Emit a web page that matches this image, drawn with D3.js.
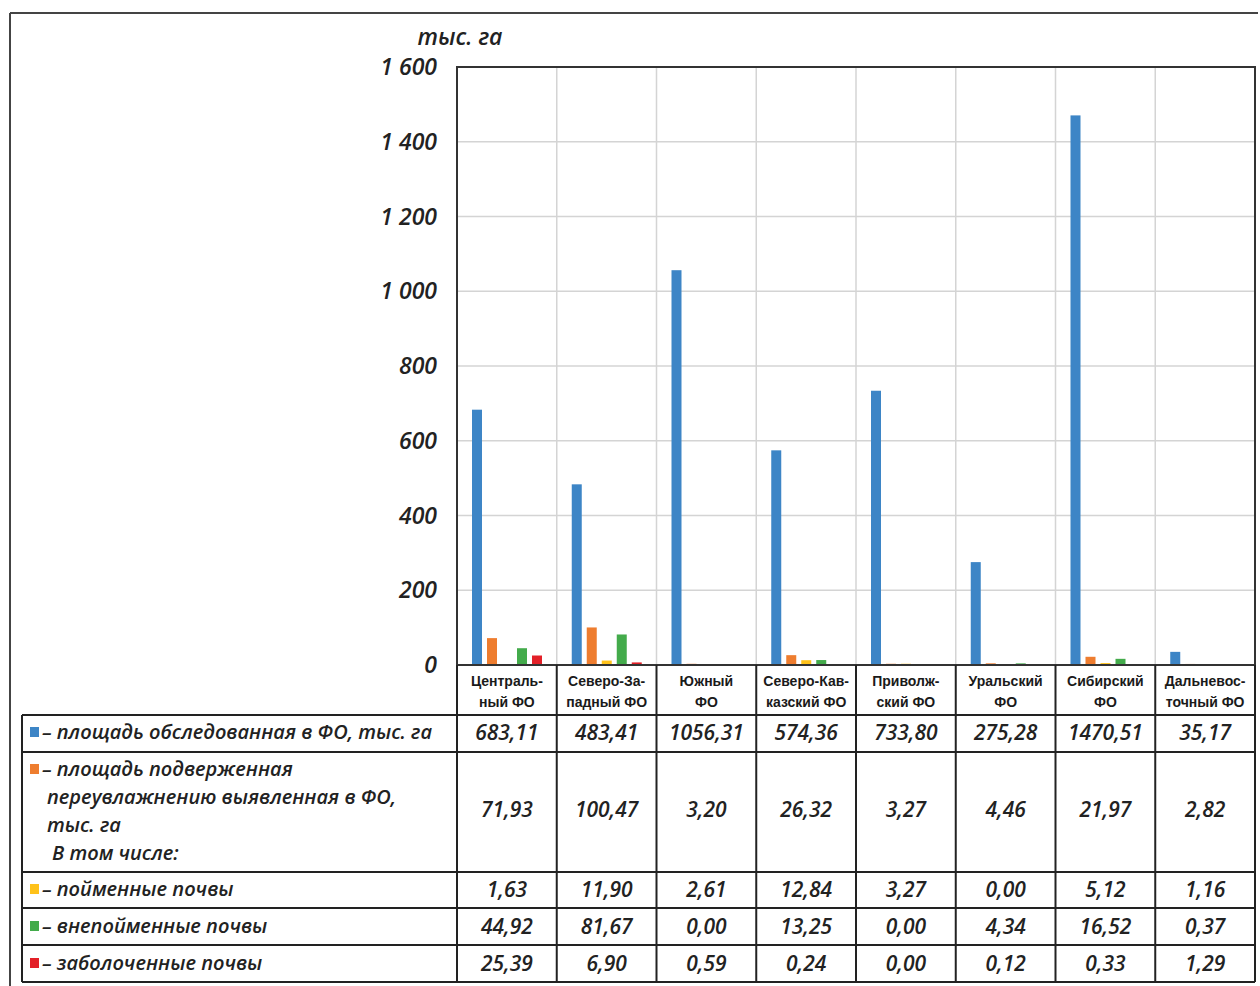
<!DOCTYPE html>
<html>
<head>
<meta charset="utf-8">
<script src="https://cdn.jsdelivr.net/npm/d3@7"></script>
<style>
  body { margin: 0; background: #fff; }
  svg { display: block; }
  .tick-label { font-family: "Open Sans", sans-serif; font-style: italic; font-weight: 600; font-size: 23px; fill: #222; }
  .cat { font-family: "Liberation Sans Narrow", "Liberation Sans", sans-serif; font-weight: 700; font-size: 14px; fill: #1a1a1a; }
  .val { font-family: "Open Sans", sans-serif; font-style: italic; font-weight: 600; font-size: 21px; fill: #222; }
  .leg { font-family: "Open Sans", sans-serif; font-style: italic; font-weight: 600; font-size: 20px; fill: #222; }
</style>
</head>
<body>
<svg id="chart" width="1260" height="986"></svg>
<script>
// categories (two lines each, as in the header cells)
const categories = [
  ['Централь-', 'ный ФО'],
  ['Северо-За-', 'падный ФО'],
  ['Южный', 'ФО'],
  ['Северо-Кав-', 'казский ФО'],
  ['Приволж-', 'ский ФО'],
  ['Уральский', 'ФО'],
  ['Сибирский', 'ФО'],
  ['Дальневос-', 'точный ФО']
];

const surveyed    = [683.11, 483.41, 1056.31, 574.36, 733.80, 275.28, 1470.51, 35.17];
const waterlogged = [71.93, 100.47, 3.20, 26.32, 3.27, 4.46, 21.97, 2.82];
const floodplain  = [1.63, 11.90, 2.61, 12.84, 3.27, 0.00, 5.12, 1.16];
const upland      = [44.92, 81.67, 0.00, 13.25, 0.00, 4.34, 16.52, 0.37];
const swampy      = [25.39, 6.90, 0.59, 0.24, 0.00, 0.12, 0.33, 1.29];

const yTicks = [0, 200, 400, 600, 800, 1000, 1200, 1400, 1600];

const seriesNames = [
  ['– площадь обследованная в ФО, тыс. га'],
  ['– площадь подверженная', 'переувлажнению выявленная в ФО,', 'тыс. га', ' В том числе:'],
  ['– пойменные почвы'],
  ['– внепойменные почвы'],
  ['– заболоченные почвы']
];
const seriesColors = ['#3d85c6', '#ee7d2f', '#ffc21a', '#43ab4b', '#e32028'];
const series = [surveyed, waterlogged, floodplain, upland, swampy];

const svg = d3.select('#chart');

const plotLeft = 457, plotRight = 1255, plotTop = 67, plotBottom = 665;
const tableLeft = 22;

const x = d3.scaleBand()
  .domain(d3.range(categories.length))
  .range([plotLeft, plotRight]);

const xInner = d3.scaleBand()
  .domain(d3.range(series.length))
  .range([15, 85])
  .paddingInner(1 / 3);

const y = d3.scaleLinear()
  .domain([0, 1600])
  .range([plotBottom, plotTop]);

const fmt = v => d3.format(',')(v).replace(/,/g, ' ');
const fmtVal = v => v.toFixed(2).replace('.', ',');

// outer frame (scan border)
svg.append('line').attr('x1', 10).attr('x2', 10).attr('y1', 13).attr('y2', 986)
  .attr('stroke', '#444').attr('stroke-width', 2);
svg.append('line').attr('x1', 10).attr('x2', 1258).attr('y1', 13).attr('y2', 13)
  .attr('stroke', '#444').attr('stroke-width', 2);

// grid
svg.append('g')
  .selectAll('line')
  .data(yTicks.slice(1, -1))
  .join('line')
    .attr('x1', plotLeft).attr('x2', plotRight)
    .attr('y1', d => y(d)).attr('y2', d => y(d))
    .attr('stroke', '#d4d4d4').attr('stroke-width', 1.5);

svg.append('g')
  .selectAll('line')
  .data(d3.range(1, categories.length))
  .join('line')
    .attr('x1', d => x(d)).attr('x2', d => x(d))
    .attr('y1', plotTop).attr('y2', plotBottom)
    .attr('stroke', '#d4d4d4').attr('stroke-width', 1.5);

// bars
series.forEach((vals, si) => {
  svg.append('g')
    .selectAll('rect')
    .data(vals)
    .join('rect')
      .attr('x', (d, i) => x(i) + xInner(si))
      .attr('y', d => y(d))
      .attr('width', xInner.bandwidth())
      .attr('height', d => plotBottom - y(d))
      .attr('fill', seriesColors[si]);
});

// plot frame
svg.append('rect')
  .attr('x', plotLeft).attr('y', plotTop)
  .attr('width', plotRight - plotLeft).attr('height', plotBottom - plotTop)
  .attr('fill', 'none').attr('stroke', '#333').attr('stroke-width', 2);

// y tick labels
svg.append('g')
  .selectAll('text')
  .data(yTicks)
  .join('text')
    .attr('class', 'tick-label')
    .attr('x', 437)
    .attr('y', d => y(d) + 8)
    .attr('text-anchor', 'end')
    .text(fmt);

svg.append('text')
  .attr('class', 'tick-label')
  .attr('x', 460).attr('y', 45)
  .attr('text-anchor', 'middle')
  .text('тыс. га');

// table
const rowEdges = [715, 752, 872, 908, 945, 982];
const rowMid = [733, 810, 890, 927, 964];

const grid = svg.append('g').attr('stroke', '#222').attr('stroke-width', 2);
// header row lines (category cells only)
x.domain().concat([categories.length]).forEach(i => {
  const xx = i < categories.length ? x(i) : plotRight;
  grid.append('line').attr('x1', xx).attr('x2', xx).attr('y1', plotBottom).attr('y2', rowEdges[rowEdges.length - 1]);
});
grid.append('line').attr('x1', tableLeft).attr('x2', tableLeft).attr('y1', rowEdges[0]).attr('y2', rowEdges[rowEdges.length - 1]);
rowEdges.forEach(ry => {
  grid.append('line').attr('x1', tableLeft).attr('x2', plotRight).attr('y1', ry).attr('y2', ry);
});

// header labels
const head = svg.append('g');
categories.forEach((lines, i) => {
  const t = head.append('text')
    .attr('class', 'cat')
    .attr('x', x(i) + x.bandwidth() / 2)
    .attr('y', 686)
    .attr('text-anchor', 'middle');
  lines.forEach((l, li) => {
    t.append('tspan').attr('x', x(i) + x.bandwidth() / 2).attr('dy', li === 0 ? 0 : 21).text(l);
  });
});

// values
series.forEach((vals, si) => {
  svg.append('g')
    .selectAll('text')
    .data(vals)
    .join('text')
      .attr('class', 'val')
      .attr('x', (d, i) => x(i) + x.bandwidth() / 2)
      .attr('y', rowMid[si] + 7)
      .attr('text-anchor', 'middle')
      .text(fmtVal);
});

// legend cells
seriesNames.forEach((lines, si) => {
  const top = rowEdges[si];
  const multi = lines.length > 1;
  const firstY = multi ? top + 24 : rowMid[si] + 6;
  svg.append('rect')
    .attr('x', 30).attr('y', firstY - 12)
    .attr('width', 9).attr('height', 10)
    .attr('fill', seriesColors[si]);
  const t = svg.append('text').attr('class', 'leg').attr('y', firstY);
  lines.forEach((l, li) => {
    t.append('tspan')
      .attr('x', li === 0 ? 42 : (l.startsWith(' ') ? 52 : 47))
      .attr('y', firstY + li * 28)
      .text(l.trim());
  });
});
</script>
</body>
</html>
